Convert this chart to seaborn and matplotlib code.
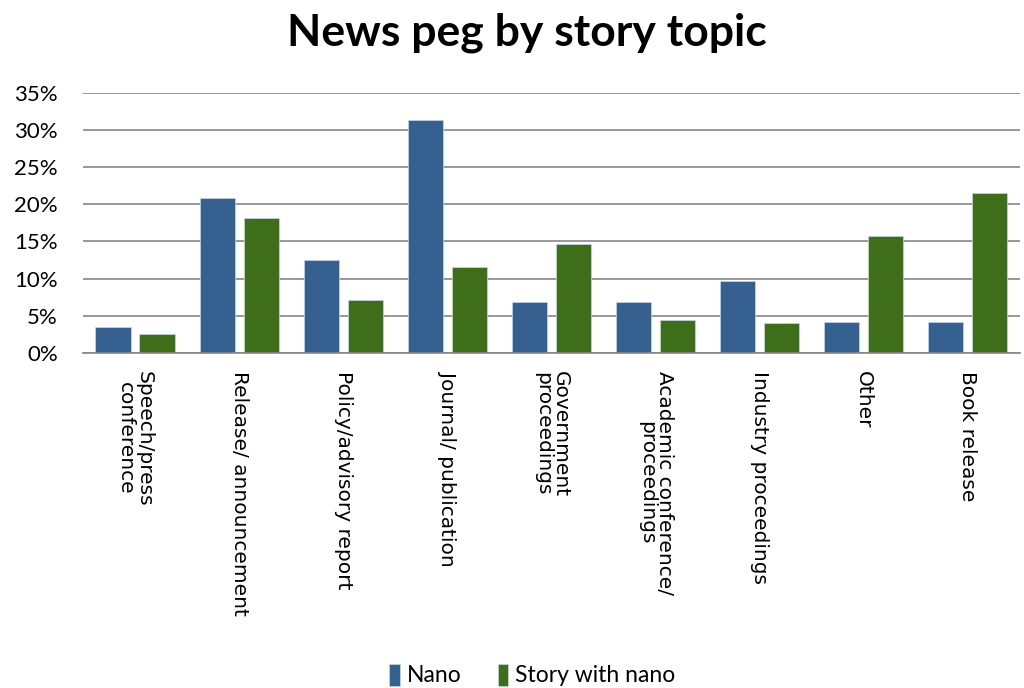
import pandas as pd
import seaborn as sns
import matplotlib.pyplot as plt
from matplotlib.ticker import PercentFormatter

# Dados
topicos = ['Speech/press\nconference', 'Release/ announcement', 'Policy/advisory report',
           'Journal/ publication', 'Government\nproceedings', 'Academic conference/\nproceedings',
           'Industry proceedings', 'Other', 'Book release']
nano = [0.035, 0.208, 0.125, 0.313, 0.069, 0.069, 0.097, 0.042, 0.042]
story_nano = [0.025, 0.181, 0.071, 0.115, 0.147, 0.045, 0.040, 0.158, 0.215]
series = ['Nano', 'Story with nano']
cores = ['#36608F', '#3F6E1B']

df = pd.DataFrame({
    'topico': topicos * 2,
    'valor': nano + story_nano,
    'serie': [series[0]] * len(topicos) + [series[1]] * len(topicos),
})

sns.set_style('white')
plt.rcParams['font.family'] = ['Lato', 'DejaVu Sans']
plt.rcParams['text.color'] = 'black'
plt.rcParams['xtick.color'] = 'black'
plt.rcParams['ytick.color'] = 'black'

fig = plt.figure(figsize=(10.24, 6.88), dpi=100)
ax = fig.add_axes([0.081, 0.487, 0.915, 0.378])

sns.barplot(data=df, x='topico', y='valor', hue='serie', palette=cores,
            width=0.845, gap=0.2, ax=ax, saturation=1, edgecolor='#c9d6e6', linewidth=0.5)

ax.set_ylim(0, 0.35)
ax.set_xlim(-0.5, len(topicos) - 0.5)
ax.set_yticks([0, 0.05, 0.10, 0.15, 0.20, 0.25, 0.30, 0.35])
ax.yaxis.set_major_formatter(PercentFormatter(1.0, decimals=0))
ax.grid(axis='y', color='#868686', linewidth=1.2)
ax.set_axisbelow(True)
for s in ['top', 'right', 'left']:
    ax.spines[s].set_visible(False)
ax.spines['bottom'].set_color('#868686')
ax.spines['bottom'].set_linewidth(1.2)

ax.set_xlabel('')
ax.set_ylabel('')
ax.tick_params(axis='y', length=0, pad=18, labelsize=16)
ax.tick_params(axis='x', length=0, pad=13)
ax.set_xticks(range(len(topicos)))
ax.set_xticklabels(topicos, rotation=-90, ha='center', va='top', multialignment='center',
                   fontsize=14.5, family='DejaVu Sans', linespacing=0.95)

# titulo centrado na figura
fig.suptitle('News peg by story topic', x=0.515, y=0.953, va='center',
             fontsize=32, fontweight='bold', color='black')

ax.legend_.remove()
h, l = ax.get_legend_handles_labels()
fig.legend(h, l, loc='center', bbox_to_anchor=(0.52, 0.019), ncol=2, frameon=False,
           fontsize=16.5, handlelength=0.45, handleheight=1.1, handletextpad=0.3, columnspacing=1.6)

plt.savefig('out.png', dpi=100)
